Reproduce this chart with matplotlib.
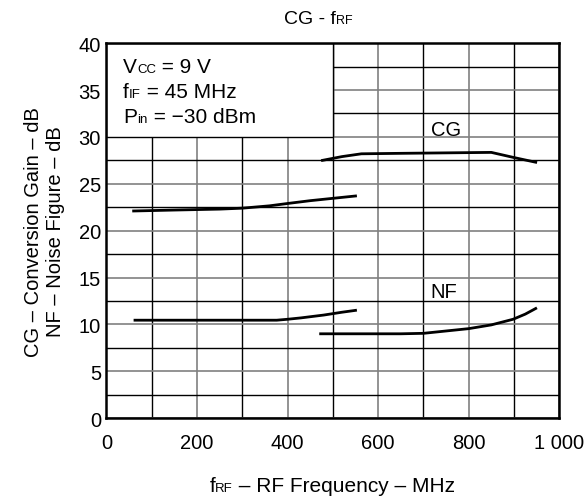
import matplotlib
matplotlib.use('Agg')
from matplotlib import pyplot as plt
from matplotlib.patches import Rectangle
from matplotlib.offsetbox import TextArea, HPacker, AnnotationBbox

plt.rcParams['font.family'] = ['Liberation Sans', 'DejaVu Sans']

# curves (MHz, dB)
cg_low_f = [60, 150, 250, 300, 360, 400, 450, 500, 550]
cg_low_db = [22.1, 22.2, 22.3, 22.4, 22.65, 22.9, 23.2, 23.45, 23.7]
cg_high_f = [477, 520, 563, 650, 750, 850, 900, 948]
cg_high_db = [27.5, 27.9, 28.2, 28.25, 28.3, 28.35, 27.8, 27.3]
nf_low_f = [63, 200, 300, 376, 400, 430, 480, 520, 550]
nf_low_db = [10.45, 10.45, 10.45, 10.45, 10.55, 10.7, 11.0, 11.3, 11.5]
nf_high_f = [473, 550, 650, 700, 750, 800, 850, 898, 925, 948]
nf_high_db = [9.0, 9.0, 9.0, 9.05, 9.3, 9.55, 9.95, 10.55, 11.1, 11.7]

xticks = [0, 200, 400, 600, 800, 1000]
xtick_labels = ['0', '200', '400', '600', '800', '1 000']
yticks = [0, 5, 10, 15, 20, 25, 30, 35, 40]


def rich(target, parts, xy, xycoords, align=(0, 0.5)):
    # text made of pieces with different sizes on one baseline (small-caps subscripts)
    boxes = [TextArea(t, textprops=dict(fontsize=s, color='black')) for t, s in parts]
    pack = HPacker(children=boxes, align='baseline', pad=0, sep=0)
    ab = AnnotationBbox(pack, xy, xycoords=xycoords, frameon=False,
                        box_alignment=align, zorder=6)
    target.add_artist(ab)


fig = plt.figure(figsize=(5.85, 5.02), dpi=100)
ax = fig.add_axes([0.182, 0.165, 0.774, 0.747])

ax.set_xlim(0, 1000)
ax.set_ylim(0, 40)
ax.set_xticks(xticks)
ax.set_xticklabels(xtick_labels)
ax.set_yticks(yticks)
ax.set_xticks(range(100, 1000, 200), minor=True)
ax.set_yticks([2.5 + 5 * i for i in range(8)], minor=True)
ax.tick_params(axis='both', which='both', length=0, labelsize=14.5)
ax.tick_params(axis='x', pad=11)
ax.tick_params(axis='y', pad=4)
ax.grid(True, which='major', color='#808080', linewidth=1.2)
ax.grid(True, which='minor', color='black', linewidth=1.0)
ax.set_axisbelow(True)
for s in ax.spines.values():
    s.set_linewidth(1.8)
    s.set_zorder(5)

# white box with the test conditions
ax.add_patch(Rectangle((0, 30), 500, 10, facecolor='white', edgecolor='black',
                       linewidth=1.0, zorder=3))
rich(ax, [('V', 15), ('CC', 9.5), (' = 9 V', 15)], (37, 37.5), 'data')
rich(ax, [('f', 15), ('IF', 9.5), (' = 45 MHz', 15)], (37, 34.85), 'data')
rich(ax, [('P', 15), ('in', 9.5), (' = −30 dBm', 15)], (37, 32.2), 'data')

for f, db in [(cg_low_f, cg_low_db), (cg_high_f, cg_high_db),
              (nf_low_f, nf_low_db), (nf_high_f, nf_high_db)]:
    ax.plot(f, db, color='black', linewidth=2, zorder=4)

ax.text(750, 30.8, 'CG', fontsize=14.5, ha='center', va='center')
ax.text(745, 13.5, 'NF', fontsize=14.5, ha='center', va='center')

rich(fig, [('CG - f', 14), ('RF', 9)], (318 / 585, 1 - 20 / 502), 'figure fraction',
     align=(0.5, 0.5))
rich(fig, [('f', 15), ('RF', 9.5), (' – RF Frequency – MHz', 15)],
     (332 / 585, 1 - 487 / 502), 'figure fraction', align=(0.5, 0.5))
ax.set_ylabel('CG – Conversion Gain – dB\nNF – Noise Figure – dB', fontsize=14.5,
              labelpad=10)

fig.savefig('out.png', dpi=100)
